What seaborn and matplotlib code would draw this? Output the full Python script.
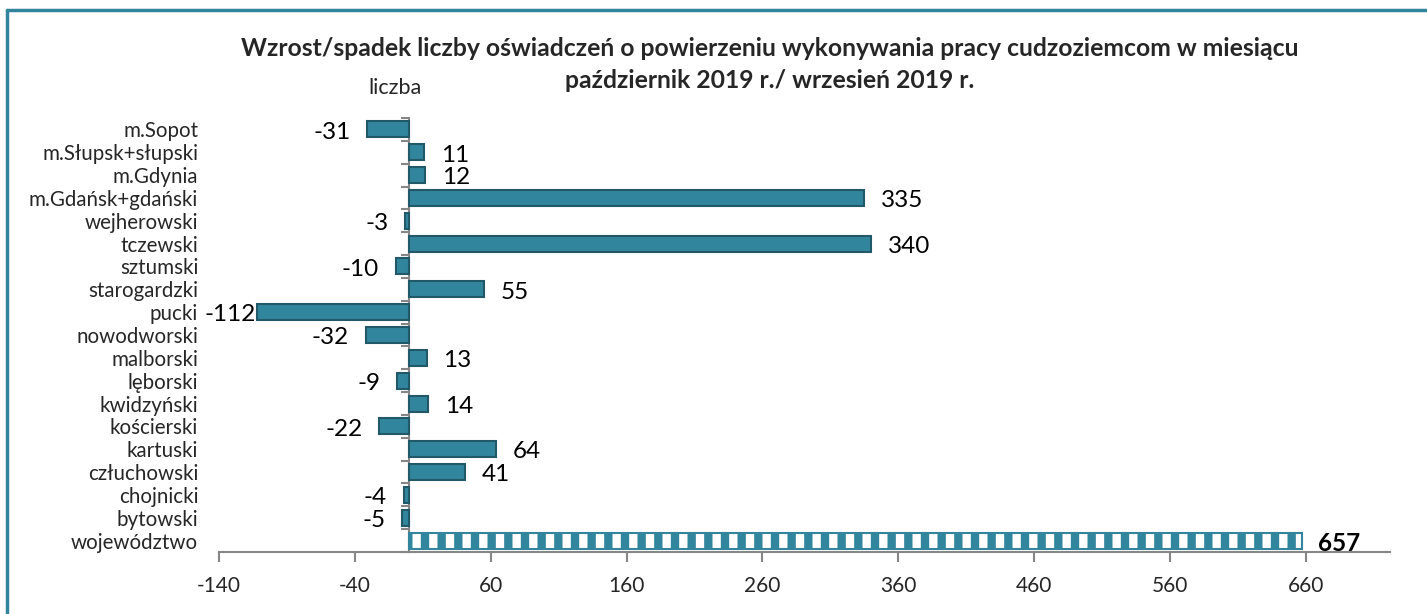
import matplotlib
matplotlib.use("Agg")
import matplotlib.pyplot as plt
import seaborn as sns
import pandas as pd
from matplotlib.lines import Line2D
from matplotlib.ticker import FixedLocator

# dane
powiaty = ["m.Sopot", "m.Słupsk+słupski", "m.Gdynia", "m.Gdańsk+gdański",
           "wejherowski", "tczewski", "sztumski", "starogardzki", "pucki",
           "nowodworski", "malborski", "lęborski", "kwidzyński", "kościerski",
           "kartuski", "człuchowski", "chojnicki", "bytowski", "województwo"]
zmiana = [-31, 11, 12, 335, -3, 340, -10, 55, -112, -32, 13, -9, 14, -22,
          64, 41, -4, -5, 657]
x_ticks = [-140, -40, 60, 160, 260, 360, 460, 560, 660]

title_1 = "Wzrost/spadek liczby oświadczeń o powierzeniu wykonywania pracy cudzoziemcom w miesiącu"
title_2 = "październik 2019 r./ wrzesień 2019 r."

TEAL = "#31859C"
EDGE = "#215968"
GREY = "#868686"

sns.set_style("white")
plt.rcParams["font.family"] = ["Lato", "DejaVu Sans"]
plt.rcParams["axes.unicode_minus"] = False
plt.rcParams["hatch.linewidth"] = 6

df = pd.DataFrame({"powiat": powiaty, "zmiana": zmiana})

fig = plt.figure(figsize=(14.27, 6.14), dpi=100)
ax = fig.add_axes([219 / 1427, 1 - 552 / 614, (1390 - 219) / 1427, (552 - 118) / 614])

sns.barplot(data=df, x="zmiana", y="powiat", orient="h", color=TEAL,
            saturation=1, width=0.7, edgecolor=EDGE, linewidth=1.5, ax=ax)

# województwo - wzór w kratkę
last = ax.patches[-1]
last.set_facecolor("white")
last.set_hatch("|")
last.set_edgecolor(TEAL)

ax.set_xlim(-140, 722)
ax.set_ylim(len(powiaty) - 0.5, -0.5)
ax.set_xlabel("")
ax.set_ylabel("")

# oś X
ax.xaxis.set_major_locator(FixedLocator(x_ticks))
ax.tick_params(axis="x", direction="out", length=7, width=1.5, color=GREY,
               labelsize=15, pad=10, bottom=True)
for s in ["top", "right", "left"]:
    ax.spines[s].set_visible(False)
ax.spines["bottom"].set_color(GREY)
ax.spines["bottom"].set_linewidth(1.5)

# etykiety kategorii
ax.tick_params(axis="y", length=0, labelsize=14.8, pad=15)

# oś pionowa w zerze
sec = ax.secondary_yaxis(140 / 862)
sec.set_ylim(ax.get_ylim())
sec.yaxis.set_major_locator(FixedLocator([i - 0.5 for i in range(len(powiaty) + 1)]))
sec.tick_params(axis="y", direction="out", length=6, width=1.5, color=GREY, labelleft=False)
sec.spines["left"].set_color(GREY)
sec.spines["left"].set_linewidth(1.5)

# etykiety wartości
labels = []
for i, v in enumerate(zmiana):
    bold = i == len(zmiana) - 1
    t = ax.annotate(str(v), xy=(v, i), xytext=(12 if v >= 0 else -12, -2),
                    textcoords="offset points", ha="left" if v >= 0 else "right",
                    va="center", fontsize=17.5, fontweight="bold" if bold else "normal",
                    color="black")
    labels.append((t, v))

# etykiety ujemne nie mogą nachodzić na nazwy powiatów
fig.canvas.draw()
limit = max(tl.get_window_extent().x1 for tl in ax.get_yticklabels()) + 6
for t, v in labels:
    if v < 0:
        bb = t.get_window_extent()
        if bb.x0 < limit:
            dx, dy = t.get_position() if False else t.xyann
            t.xyann = (dx + (limit - bb.x0) * 72 / fig.dpi, dy)

fig.text(770 / 1427, 1 - 56 / 614, title_1, ha="center", va="baseline",
         fontsize=17.8, fontweight="bold")
fig.text(770 / 1427, 1 - 88 / 614, title_2, ha="center", va="baseline",
         fontsize=17.8, fontweight="bold")
fig.text(395 / 1427, 1 - 88 / 614, "liczba", ha="center", va="center", fontsize=15.5)

# ramka
fig.add_artist(Line2D([7 / 1427, 1], [1 - 10 / 614, 1 - 10 / 614], color="#31849B", lw=2.5))
fig.add_artist(Line2D([7 / 1427, 7 / 1427], [0, 1 - 10 / 614], color="#31849B", lw=2.5))

fig.savefig("out.png", dpi=100)
